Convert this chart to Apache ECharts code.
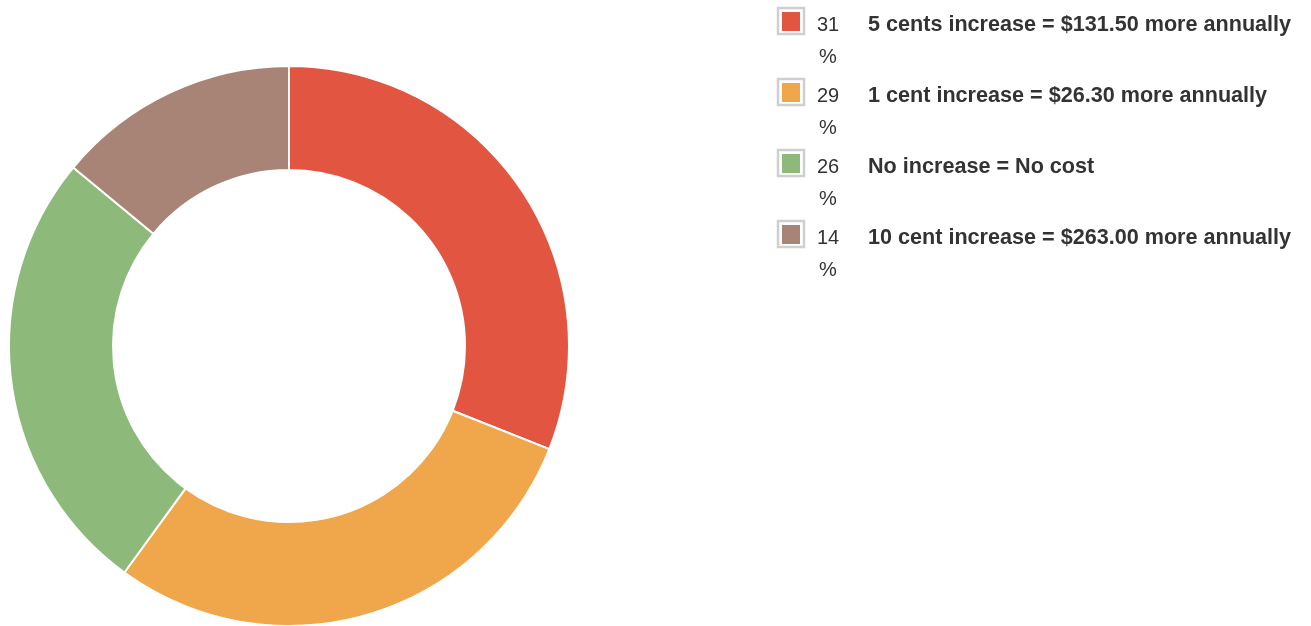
<!DOCTYPE html>
<html>
<head>
<meta charset="utf-8">
<script src="https://cdn.jsdelivr.net/npm/echarts@6/dist/echarts.min.js"></script>
<style>
  html, body { margin: 0; padding: 0; background: #fff; }
  #chart { width: 1311px; height: 626px; }
</style>
</head>
<body>
<div id="chart"></div>
<script>
// survey answers, percent of respondents
const labels = [
  "5 cents increase = $131.50 more annually",
  "1 cent increase = $26.30 more annually",
  "No increase = No cost",
  "10 cent increase = $263.00 more annually",
];
const percents = [31, 29, 26, 14];
const colors = ["#e25641", "#f0a64a", "#8dba7a", "#a88477"];

const chart = echarts.init(document.getElementById("chart"));

// legend drawn by hand: framed swatch, wrapped percent, bold label
const legendItems = [];
labels.forEach((label, i) => {
  const top = 8 + i * 71;
  legendItems.push(
    {
      type: "rect",
      shape: { x: 778, y: top, width: 26, height: 26 },
      style: { fill: "#fff", stroke: "#cfcfcf", lineWidth: 2.5 },
    },
    {
      type: "rect",
      shape: { x: 782, y: top + 4, width: 18, height: 19 },
      style: { fill: colors[i] },
    },
    {
      type: "text",
      x: 817,
      y: top + 17,
      style: {
        text: String(percents[i]),
        fill: "#333",
        font: "20px 'Liberation Sans', Arial, sans-serif",
        verticalAlign: "middle",
      },
    },
    {
      type: "text",
      x: 819,
      y: top + 49,
      style: {
        text: "%",
        fill: "#333",
        font: "20px 'Liberation Sans', Arial, sans-serif",
        verticalAlign: "middle",
      },
    },
    {
      type: "text",
      x: 868,
      y: top + 17,
      style: {
        text: label,
        fill: "#333",
        font: "bold 21.6px 'Liberation Sans', Arial, sans-serif",
        verticalAlign: "middle",
      },
    }
  );
});

chart.setOption({
  backgroundColor: "#fff",
  animation: false,
  color: colors,
  tooltip: { trigger: "item" },
  graphic: legendItems,
  series: [
    {
      type: "pie",
      center: [289, 346],
      radius: [176, 280],
      startAngle: 90,
      clockwise: true,
      label: { show: false },
      labelLine: { show: false },
      itemStyle: { borderColor: "#fff", borderWidth: 2 },
      emphasis: { scale: false },
      data: labels.map((name, i) => ({ name, value: percents[i] })),
    },
  ],
});

window.addEventListener("resize", () => chart.resize());
</script>
</body>
</html>
